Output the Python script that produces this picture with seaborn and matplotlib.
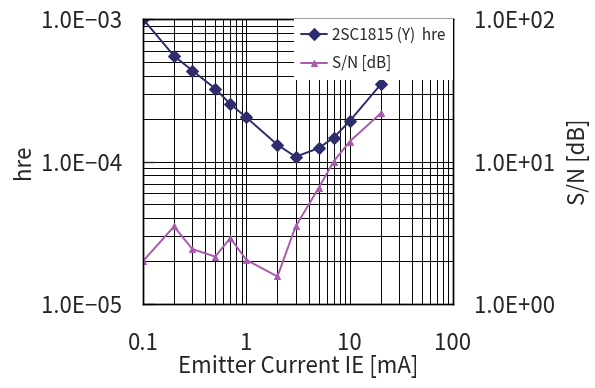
import matplotlib
matplotlib.use("Agg")
import matplotlib.pyplot as plt
import seaborn as sns
import pandas as pd
from matplotlib.ticker import LogLocator, NullFormatter, FixedLocator, FixedFormatter

# Data
current_ma = [0.1, 0.2, 0.3, 0.5, 0.7, 1, 2, 3, 5, 7, 10, 20]
hre = [1.0e-3, 5.5e-4, 4.35e-4, 3.25e-4, 2.53e-4, 2.04e-4, 1.31e-4, 1.08e-4, 1.24e-4, 1.47e-4, 1.92e-4, 3.48e-4]
sn_db = [2.0, 3.5, 2.43, 2.15, 2.9, 2.04, 1.56, 3.5, 6.5, 10.0, 13.8, 21.8]
x_ticks = [0.1, 1, 10, 100]
x_tick_labels = ["0.1", "1", "10", "100"]
left_ticks = [1e-5, 1e-4, 1e-3]
left_tick_labels = ["1.0E\u221205", "1.0E\u221204", "1.0E\u221203"]
right_ticks = [1, 10, 100]
right_tick_labels = ["1.0E+00", "1.0E+01", "1.0E+02"]

sns.set_style("white")
plt.rcParams['font.family'] = ['Noto Sans CJK JP', 'DejaVu Sans']

df = pd.DataFrame({"IE": current_ma, "hre": hre, "SN": sn_db})

fig = plt.figure(figsize=(5.95, 3.88), dpi=100)
ax = fig.add_axes([0.2403, 0.2165, 0.521, 0.7345])
ax2 = ax.twinx()

ax.set_xscale("log")
ax.set_yscale("log")
ax2.set_yscale("log")
ax.set_xlim(0.1, 100)
ax.set_ylim(1e-5, 1e-3)
ax2.set_ylim(1, 100)

# grid
ax.xaxis.set_minor_locator(LogLocator(base=10, subs=range(2, 10)))
ax.yaxis.set_minor_locator(LogLocator(base=10, subs=range(2, 10)))
ax.grid(True, which="both", axis="both", color="black", linewidth=0.7)
ax.set_axisbelow(True)

navy = "#2d2d6b"
purple = "#a95aae"
sns.lineplot(data=df, x="IE", y="hre", ax=ax, color=navy, marker="D", markersize=6,
             markeredgecolor=navy, linewidth=1.4, label="2SC1815 (Y)  hre", legend=False)
sns.lineplot(data=df, x="IE", y="SN", ax=ax2, color=purple, marker="^", markersize=5,
             markeredgecolor=purple, linewidth=1.4, label="S/N [dB]", legend=False)

ax.xaxis.set_major_locator(FixedLocator(x_ticks))
ax.xaxis.set_major_formatter(FixedFormatter(x_tick_labels))
ax.xaxis.set_minor_formatter(NullFormatter())
ax.yaxis.set_major_locator(FixedLocator(left_ticks))
ax.yaxis.set_major_formatter(FixedFormatter(left_tick_labels))
ax.yaxis.set_minor_formatter(NullFormatter())
ax2.yaxis.set_major_locator(FixedLocator(right_ticks))
ax2.yaxis.set_major_formatter(FixedFormatter(right_tick_labels))
ax2.yaxis.set_minor_locator(FixedLocator([]))
ax2.yaxis.set_minor_formatter(NullFormatter())

fs = 16
ax.tick_params(axis="x", which="both", length=0, pad=20, labelsize=fs)
ax.tick_params(axis="y", which="major", direction="in", length=8, width=1, pad=15, labelsize=fs)
ax.tick_params(axis="y", which="minor", length=0)
ax2.tick_params(axis="y", which="major", direction="in", length=0, pad=15, labelsize=fs)

for a in (ax, ax2):
    for s in a.spines.values():
        s.set_color("black")
        s.set_linewidth(1.0)

ax.set_xlabel("Emitter Current IE [mA]", fontsize=fs, labelpad=0)
ax.set_ylabel("hre", fontsize=fs, labelpad=4)
ax2.set_ylabel("S/N [dB]", fontsize=fs, labelpad=9)

h1, l1 = ax.get_legend_handles_labels()
h2, l2 = ax2.get_legend_handles_labels()
leg = ax2.legend(h1 + h2, l1 + l2, loc="upper right", bbox_to_anchor=(1.0, 1.0),
                 fontsize=11, frameon=True, fancybox=False, framealpha=1,
                 edgecolor="white", facecolor="white", borderpad=0.5,
                 labelspacing=0.75, handlelength=1.7, handletextpad=0.3,
                 borderaxespad=0.0)
leg.get_frame().set_linewidth(0)

fig.savefig("out.png", dpi=100)
